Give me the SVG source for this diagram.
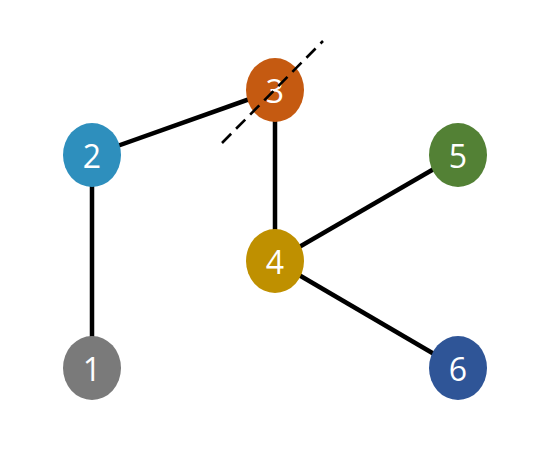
<svg xmlns="http://www.w3.org/2000/svg" width="550" height="457" viewBox="0 0 550 457">
<style>
.e{stroke:#000;stroke-width:4.5;fill:none}
.n text{font-family:"Open Sans","Noto Sans",sans-serif;font-size:32px;fill:#fff;text-anchor:middle;dominant-baseline:central}
</style>
<rect width="550" height="457" fill="#fff"/>
<g id="edges">
<line class="e" x1="92" y1="155" x2="92" y2="368"/>
<line class="e" x1="92" y1="155" x2="275" y2="90"/>
<line class="e" x1="275" y1="90" x2="275" y2="261"/>
<line class="e" x1="275" y1="261" x2="458" y2="155"/>
<line class="e" x1="275" y1="261" x2="458" y2="368"/>
</g>
<g id="n1" class="n"><ellipse cx="92" cy="368" rx="29" ry="32" fill="#7a7a7a"/><text x="92" y="368">1</text></g>
<g id="n2" class="n"><ellipse cx="92" cy="155" rx="29" ry="32" fill="#2e8fbd"/><text x="92" y="155">2</text></g>
<g id="n3" class="n"><ellipse cx="275" cy="90" rx="29" ry="32" fill="#c55a11"/><text x="275" y="90">3</text></g>
<g id="n4" class="n"><ellipse cx="275" cy="261" rx="29" ry="32" fill="#bf9000"/><text x="275" y="261">4</text></g>
<g id="n5" class="n"><ellipse cx="458" cy="155" rx="29" ry="32" fill="#538135"/><text x="458" y="155">5</text></g>
<g id="n6" class="n"><ellipse cx="458" cy="368" rx="29" ry="32" fill="#2f5597"/><text x="458" y="368">6</text></g>
<g id="cut"><line x1="222" y1="143" x2="323" y2="41" stroke="#000" stroke-width="2.6" stroke-dasharray="13,7"/></g>
</svg>
